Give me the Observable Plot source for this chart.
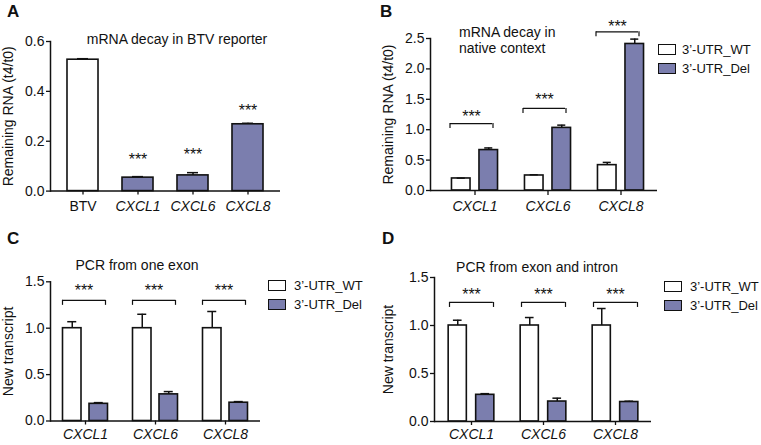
<!DOCTYPE html>
<html><head><meta charset="utf-8">
<script src="https://cdn.jsdelivr.net/npm/d3@7"></script>
<script src="https://cdn.jsdelivr.net/npm/@observablehq/plot@0.6"></script>
<style>
html,body{margin:0;padding:0;background:#fff;}
#fig{position:relative;width:761px;height:445px;overflow:hidden;font-family:'Liberation Sans',Arial,Helvetica,sans-serif;color:#111;}
.letter{position:absolute;font-weight:bold;font-size:17px;line-height:17px;}
.title{position:absolute;font-size:14px;line-height:14px;white-space:nowrap;}
.title.c{transform:translateX(-50%);}
.legend{position:absolute;font-size:13px;line-height:13px;}
.legend .row{display:flex;align-items:center;height:12px;margin-bottom:7px;white-space:nowrap;}
.legend .sw{width:16px;height:9px;border:1.5px solid #111;flex:none;}
</style></head>
<body><div id="fig"></div>
<script>
// ---------- data ----------
const genesA = ["BTV", "CXCL1", "CXCL6", "CXCL8"];
const valuesA = [0.527, 0.054, 0.063, 0.268];
const errorsA = [0.004, 0.004, 0.011, 0.004];
const starLevelsA = [null, 0.142, 0.163, 0.339];
const yTicksA = [0, 0.2, 0.4, 0.6];

const genes = ["CXCL1", "CXCL6", "CXCL8"];
const seriesNames = ["3\u2019-UTR_WT", "3\u2019-UTR_Del"];

const wtB = [0.198, 0.247, 0.417];
const wtErrB = [0.005, 0.012, 0.045];
const delB = [0.665, 1.03, 2.41];
const delErrB = [0.035, 0.045, 0.08];
const bracketB = [1.10, 1.35, 2.61];
const starB = [1.28, 1.55, 2.76];
const yTicksB = [0, 0.5, 1.0, 1.5, 2.0, 2.5];

const wtC = [1.0, 1.0, 1.0];
const wtErrC = [0.07, 0.15, 0.18];
const delC = [0.185, 0.287, 0.197];
const delErrC = [0.013, 0.03, 0.012];
const bracketC = [1.30, 1.30, 1.30];
const starC = [1.44, 1.44, 1.44];

const wtD = [1.0, 1.0, 1.0];
const wtErrD = [0.055, 0.083, 0.177];
const delD = [0.278, 0.208, 0.203];
const delErrD = [0.012, 0.035, 0.008];
const bracketD = [1.24, 1.24, 1.24];
const starD = [1.36, 1.36, 1.36];
const yTicksCD = [0, 0.5, 1.0, 1.5];

// ---------- styling ----------
const purple = "#7b7eae";
const ink = "#111";
const font = "'Liberation Sans', Arial, Helvetica, sans-serif";
const fig = document.getElementById("fig");

function baseStyle() {
  return {fontFamily: font, fontSize: "14px", color: ink, background: "transparent", overflow: "visible"};
}
function place(node, left, top) {
  node.style.position = "absolute";
  node.style.left = left + "px";
  node.style.top = top + "px";
  fig.appendChild(node);
}
function addDiv(cls, html, left, top) {
  const d = document.createElement("div");
  d.className = cls;
  d.innerHTML = html;
  place(d, left, top);
  return d;
}
function addLegend(left, top, gap) {
  const d = document.createElement("div");
  d.className = "legend";
  seriesNames.forEach((name, i) => {
    const r = document.createElement("div");
    r.className = "row";
    const sw = document.createElement("span");
    sw.className = "sw";
    sw.style.background = i === 0 ? "#fff" : purple;
    sw.style.marginRight = gap + "px";
    const t = document.createElement("span");
    t.textContent = name;
    r.appendChild(sw); r.appendChild(t);
    d.appendChild(r);
  });
  place(d, left, top);
}

// ---------- panel A ----------
(function () {
  const width = 380, height = 222, mL = 50, mR = 100, mT = 41, mB = 31.4;
  const po = 0.054, n = genesA.length;
  const step = (width - mL - mR) / (n + 2 * po);
  const barW = 32, capW = 12;
  const inset = (step - barW) / 2, capInset = (step - capW) / 2;
  const rows = genesA.map((g, i) => ({gene: g, v: valuesA[i], e: errorsA[i], s: starLevelsA[i]}));
  const chart = Plot.plot({
    width, height, marginLeft: mL, marginRight: mR, marginTop: mT, marginBottom: mB,
    style: baseStyle(),
    x: {domain: genesA, paddingInner: 0, paddingOuter: po, align: 0.5},
    y: {domain: [0, 0.6]},
    marks: [
      Plot.barY(rows.filter(d => d.gene === "BTV"), {x: "gene", y: "v", fill: "white", stroke: ink, strokeWidth: 1.6, insetLeft: inset, insetRight: inset}),
      Plot.barY(rows.filter(d => d.gene !== "BTV"), {x: "gene", y: "v", fill: purple, stroke: ink, strokeWidth: 1.6, insetLeft: inset, insetRight: inset}),
      Plot.ruleX(rows, {x: "gene", y1: "v", y2: d => d.v + d.e, stroke: ink, strokeWidth: 1.5}),
      Plot.tickY(rows, {x: "gene", y: d => d.v + d.e, insetLeft: capInset, insetRight: capInset, stroke: ink, strokeWidth: 1.5}),
      Plot.text(rows.filter(d => d.s != null), {x: "gene", y: "s", text: () => "***", fontSize: 16, dy: 4, fill: ink}),
      Plot.frame({anchor: "left", stroke: ink, strokeWidth: 1.5}),
      Plot.ruleY([0], {stroke: ink, strokeWidth: 1.5}),
      Plot.axisY({ticks: yTicksA, tickFormat: d3.format(".1f"), tickSize: 4, tickPadding: 2, fontSize: 14, strokeWidth: 1.3,
        label: "Remaining RNA (t4/t0)", labelAnchor: "center", labelArrow: "none"}),
      Plot.axisX({ticks: ["BTV"], tickSize: 4, tickPadding: 6, fontSize: 14, strokeWidth: 1.3, label: null}),
      Plot.axisX({ticks: genesA.slice(1), tickSize: 4, tickPadding: 6, fontSize: 14, strokeWidth: 1.3, fontStyle: "italic", label: null})
    ]
  });
  place(chart, 0, 0);
})();

// ---------- grouped panels ----------
function groupedPanel(o) {
  const n = o.genes.length;
  const step = (o.width - o.marginLeft - o.marginRight) / (n + 2 * o.po);
  const inset = (step - o.barW) / 2;
  const shift = (o.barW + o.gap) / 2;
  const capInset = (step - o.capW) / 2;
  const plotH = o.height - o.marginTop - o.marginBottom;
  const tickLen = 5 * o.yMax / plotH;
  const rows = (vals, errs) => o.genes.map((g, i) => ({gene: g, v: vals[i], e: errs[i]}));
  const wt = rows(o.wt, o.wtErr), del = rows(o.del, o.delErr);
  const br = o.genes.map((g, i) => ({gene: g, h: o.bracket[i], s: o.star[i]}));
  const errMarks = (data, dx) => [
    Plot.ruleX(data, {x: "gene", y1: "v", y2: d => d.v + d.e, dx, stroke: ink, strokeWidth: 1.5}),
    Plot.tickY(data, {x: "gene", y: d => d.v + d.e, dx, insetLeft: capInset, insetRight: capInset, stroke: ink, strokeWidth: 1.5})
  ];
  return Plot.plot({
    width: o.width, height: o.height,
    marginLeft: o.marginLeft, marginRight: o.marginRight, marginTop: o.marginTop, marginBottom: o.marginBottom,
    style: baseStyle(),
    x: {domain: o.genes, paddingInner: 0, paddingOuter: o.po, align: o.align},
    y: {domain: [0, o.yMax]},
    marks: [
      Plot.barY(wt, {x: "gene", y: "v", fill: "white", stroke: ink, strokeWidth: 1.6, insetLeft: inset, insetRight: inset, dx: -shift}),
      Plot.barY(del, {x: "gene", y: "v", fill: purple, stroke: ink, strokeWidth: 1.6, insetLeft: inset, insetRight: inset, dx: shift}),
      ...errMarks(wt, -shift),
      ...errMarks(del, shift),
      Plot.ruleY(br, {x1: "gene", x2: "gene", y: "h", insetLeft: step / 2 - o.bl, insetRight: step / 2 - o.br, stroke: ink, strokeWidth: 1.2}),
      Plot.ruleX(br, {x: "gene", y1: "h", y2: d => d.h - tickLen, dx: -o.bl, stroke: ink, strokeWidth: 1.2}),
      Plot.ruleX(br, {x: "gene", y1: "h", y2: d => d.h - tickLen, dx: o.br, stroke: ink, strokeWidth: 1.2}),
      Plot.text(br, {x: "gene", y: "s", text: () => "***", dx: (o.br - o.bl) / 2, dy: 4, fontSize: 16, fill: ink}),
      Plot.frame({anchor: "left", stroke: ink, strokeWidth: 1.5}),
      Plot.ruleY([0], {stroke: ink, strokeWidth: 1.5}),
      Plot.axisY({ticks: o.yTicks, tickFormat: d3.format(".1f"), tickSize: 4, tickPadding: 2, fontSize: 14, strokeWidth: 1.3,
        label: o.yLabel, labelAnchor: "center", labelArrow: "none"}),
      Plot.axisX({tickSize: o.tickSize, tickPadding: o.tickPadding, fontSize: 14, strokeWidth: 1.3, fontStyle: "italic", label: null})
    ]
  });
}

place(groupedPanel({
  genes, wt: wtB, wtErr: wtErrB, del: delB, delErr: delErrB, bracket: bracketB, star: starB,
  yMax: 2.5, yTicks: yTicksB, yLabel: "Remaining RNA (t4/t0)",
  width: 381, height: 222, marginLeft: 50, marginRight: 104, marginTop: 38, marginBottom: 32,
  po: 0.035, align: 1, barW: 19.5, gap: 8, capW: 9, bl: 25, br: 18, tickSize: 5, tickPadding: 6
}), 380, 0);

place(groupedPanel({
  genes, wt: wtC, wtErr: wtErrC, del: delC, delErr: delErrC, bracket: bracketC, star: starC,
  yMax: 1.5, yTicks: yTicksCD, yLabel: "New transcript",
  width: 380, height: 223, marginLeft: 50, marginRight: 120, marginTop: 59.3, marginBottom: 24.5,
  po: 0, align: 0.5, barW: 18.5, gap: 8, capW: 9, bl: 23, br: 20, tickSize: 4, tickPadding: 4.5
}), 0, 222);

place(groupedPanel({
  genes, wt: wtD, wtErr: wtErrD, del: delD, delErr: delErrD, bracket: bracketD, star: starD,
  yMax: 1.5, yTicks: yTicksCD, yLabel: "New transcript",
  width: 381, height: 223, marginLeft: 54, marginRight: 110, marginTop: 55, marginBottom: 24,
  po: 0, align: 0.5, barW: 18.5, gap: 9, capW: 9, bl: 22, br: 22, tickSize: 4, tickPadding: 4
}), 380, 222);

// ---------- titles, letters, legends ----------
addDiv("title c", "mRNA decay in BTV reporter", 177, 31.7);
addDiv("title", "mRNA decay in<br>native context", 459, 24).style.lineHeight = "16px";
addDiv("title c", "PCR from one exon", 137, 258);
addDiv("title c", "PCR from exon and intron", 537, 259.5);

addDiv("letter", "A", 7, 3);
addDiv("letter", "B", 380, 3);
addDiv("letter", "C", 7, 230);
addDiv("letter", "D", 382, 230);

addLegend(658, 43.3, 6);
addLegend(268, 279.3, 8);
addLegend(664, 280.5, 8);
</script>
</body></html>
